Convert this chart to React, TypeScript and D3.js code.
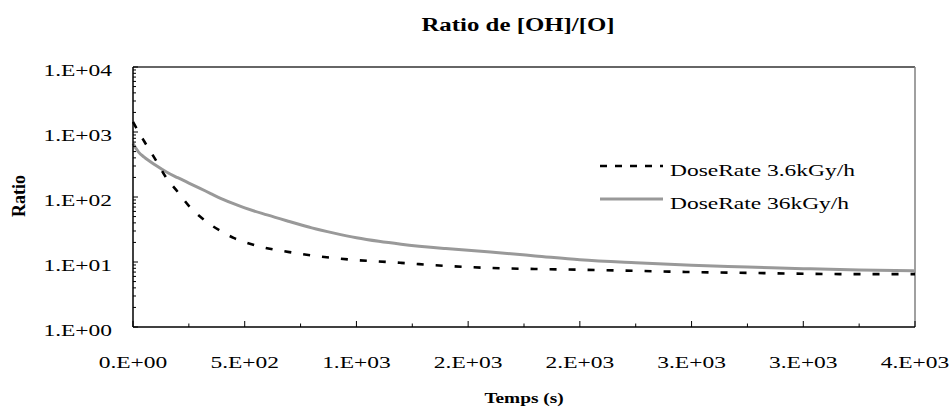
import React from 'react';
import * as d3 from 'd3';

// data
const times = [0, 25, 50, 100, 150, 200, 250, 300, 350, 400, 450, 500, 600, 700, 800, 900, 1000, 1100, 1200, 1400, 1600, 1800, 2000, 2250, 2500, 2750, 3000, 3250, 3500];
const rateLow = [1426, 1000, 720, 380, 195, 120, 73, 50, 37, 29, 23.5, 20.3, 16.3, 14.2, 12.6, 11.5, 10.7, 10.2, 9.7, 8.7, 8.1, 7.8, 7.6, 7.3, 7.0, 6.8, 6.6, 6.5, 6.5];
const rateHigh = [665, 490, 410, 310, 242, 198, 164, 136, 112, 93, 79, 68, 53, 42, 33.5, 27.8, 23.6, 20.8, 18.8, 16.1, 14.2, 12.4, 10.8, 9.7, 8.9, 8.4, 7.9, 7.5, 7.3];
const seriesNames = ['DoseRate 3.6kGy/h', 'DoseRate 36kGy/h'];
const xTicks = [0, 500, 1000, 1500, 2000, 2500, 3000, 3500];
const yTicks = [1, 10, 100, 1000, 10000];

const W = 949;
const H = 408;
const margin = {top: 67, right: 34, bottom: 81, left: 133};
const SX = 1.38; // the picture is stretched sideways
const FONT = "'Times New Roman', 'Liberation Serif', serif";

// excel "0.E+00" style
const sci = (v: number) => {
  if (v === 0) return '0.E+00';
  let e = Math.floor(Math.log10(v));
  let m = Math.round(v / Math.pow(10, e));
  if (m === 10) { m = 1; e += 1; }
  return `${m}.E+${e < 10 ? '0' + e : e}`;
};

const T = ({x, y, anchor = 'start', size = 17, bold = false, children}: any) => (
  <text
    transform={`translate(${x},${y}) scale(${SX},1)`}
    textAnchor={anchor}
    fontFamily={FONT}
    fontSize={size}
    fontWeight={bold ? 'bold' : 'normal'}
    fill="#000"
  >{children}</text>
);

const App = () => {
  const x = d3.scaleLinear().domain([0, 3500]).range([margin.left, W - margin.right]);
  const y = d3.scaleLog().domain([1, 10000]).range([H - margin.bottom, margin.top]);

  const line = d3.line<number>()
    .x((_, i) => x(times[i]))
    .y(d => y(d))
    .curve(d3.curveMonotoneX);

  const x0 = x(0), x1 = x(3500), y0 = y(1), y1 = y(10000);

  // minor ticks
  const yMinor: number[] = [];
  for (let dec = 1; dec < 10000; dec *= 10) {
    for (let k = 2; k <= 9; k++) yMinor.push(dec * k);
  }
  const xMinor = d3.range(250, 3500, 500);

  const legX = 600;
  const legY = [166, 199];

  return (
    <svg width={W} height={H} style={{position: 'absolute', left: 0, top: 0, background: '#fff'}}>
      <T x={518} y={31} anchor="middle" size={18} bold>Ratio de [OH]/[O]</T>

      {/* plot box */}
      <line x1={x0} x2={x1} y1={y1} y2={y1} stroke="#333" strokeWidth={1.5} />
      <line x1={x1} x2={x1} y1={y1} y2={y0} stroke="#808080" strokeWidth={1.5} />

      {/* curves */}
      <path d={line(rateHigh) || ''} fill="none" stroke="#999" strokeWidth={3} />
      <path d={line(rateLow) || ''} fill="none" stroke="#000" strokeWidth={2.6} strokeDasharray="7,12" />

      {/* y axis */}
      <line x1={x0} x2={x0} y1={y1} y2={y0} stroke="#000" strokeWidth={1.5} />
      {yTicks.map(t => (
        <g key={'y' + t}>
          <line x1={x0} x2={x0 + 5} y1={y(t)} y2={y(t)} stroke="#000" />
          <T x={112} y={y(t) + 9} anchor="end">{sci(t)}</T>
        </g>
      ))}
      {yMinor.map(t => (
        <line key={'ym' + t} x1={x0} x2={x0 + 3} y1={y(t)} y2={y(t)} stroke="#000" />
      ))}
      <text
        transform={`translate(25,196) rotate(-90)`}
        textAnchor="middle"
        fontFamily={FONT}
        fontSize={18}
        fontWeight="bold"
      >Ratio</text>

      {/* x axis */}
      <line x1={x0} x2={x1} y1={y0} y2={y0} stroke="#000" strokeWidth={1.5} />
      {xTicks.map((t, i) => (
        <g key={'x' + i}>
          <line x1={x(t)} x2={x(t)} y1={y0} y2={y0 - 6} stroke="#000" />
          <T x={x(t)} y={368} anchor="middle">{sci(t)}</T>
        </g>
      ))}
      {xMinor.map(t => (
        <line key={'xm' + t} x1={x(t)} x2={x(t)} y1={y0} y2={y0 - 3.5} stroke="#000" />
      ))}
      <T x={524} y={403} anchor="middle" size={14} bold>Temps (s)</T>

      {/* legend */}
      <line x1={legX} x2={legX + 63} y1={legY[0]} y2={legY[0]} stroke="#000" strokeWidth={2.6} strokeDasharray="7,8" />
      <T x={670} y={legY[0] + 10}>{seriesNames[0]}</T>
      <line x1={legX} x2={legX + 63} y1={legY[1]} y2={legY[1]} stroke="#999" strokeWidth={3} />
      <T x={670} y={legY[1] + 10}>{seriesNames[1]}</T>
    </svg>
  );
};

export default App;
